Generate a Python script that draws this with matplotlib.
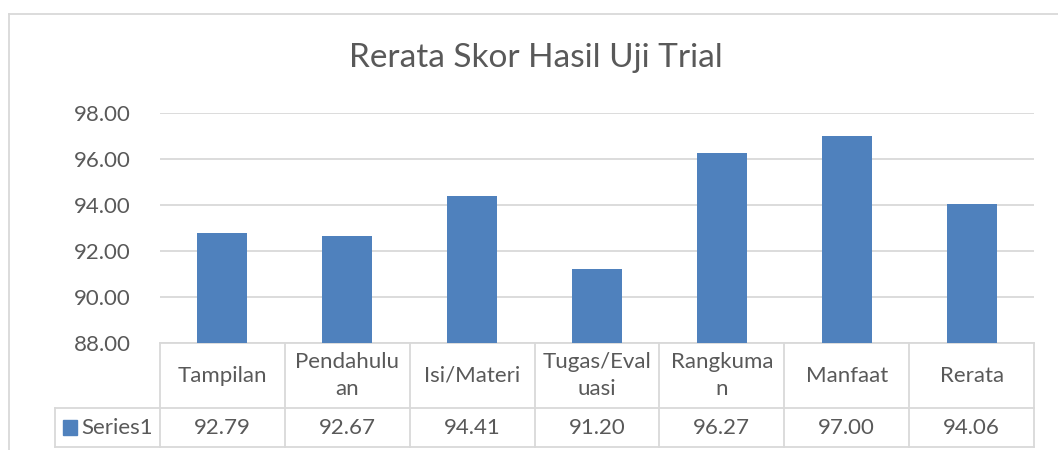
import matplotlib
matplotlib.use("Agg")
import matplotlib.pyplot as plt
from matplotlib.transforms import blended_transform_factory
from matplotlib.patches import Rectangle
from matplotlib.lines import Line2D

categories = ["Tampilan", "Pendahulu\nan", "Isi/Materi", "Tugas/Eval\nuasi",
              "Rangkuma\nn", "Manfaat", "Rerata"]
values = [92.79, 92.67, 94.41, 91.20, 96.27, 97.00, 94.06]
series_name = "Series1"
yticks = [88, 90, 92, 94, 96, 98]
title = "Rerata Skor Hasil Uji Trial"

W, H = 1058, 450
plt.rcParams['font.family'] = ['Lato', 'DejaVu Sans']
TXT = '#595959'
GRID = '#d9d9d9'
BAR = '#4f81bd'
FS = 16

fig = plt.figure(figsize=(W / 100, H / 100), dpi=100)
fig.patch.set_facecolor('white')

# chart border (cropped on right/bottom)
fig.add_artist(Line2D([8.5 / W, 8.5 / W], [0, 1 - 13.5 / H], transform=fig.transFigure,
                      color=GRID, lw=1.3))
fig.add_artist(Line2D([8.5 / W, 1], [1 - 13.5 / H, 1 - 13.5 / H], transform=fig.transFigure,
                      color=GRID, lw=1.3))

x0, x1 = 160, 1034
y_top, y_bot = 113, 343
ax = fig.add_axes([x0 / W, 1 - y_bot / H, (x1 - x0) / W, (y_bot - y_top) / H])
n = len(categories)
xs = list(range(n))
ax.bar(xs, [v - yticks[0] for v in values], bottom=yticks[0], width=0.4, color=BAR, zorder=3)
ax.set_xlim(-0.5, n - 0.5)
ax.set_ylim(yticks[0], yticks[-1])
ax.set_yticks(yticks)
ax.set_yticklabels([f"{t:.2f}" for t in yticks], color=TXT, fontsize=FS)
ax.tick_params(axis='y', length=0, pad=21)
ax.set_xticks([])
ax.grid(axis='y', color=GRID, lw=1.3, zorder=0)
for s in ['left', 'right', 'top', 'bottom']:
    ax.spines[s].set_visible(False)

fig.text(536 / W, 1 - 58 / H, title, ha='center', va='center', fontsize=24, color=TXT)

# data table
tr = blended_transform_factory(ax.transData, ax.transAxes)
ah = y_bot - y_top
r1 = -(408 - y_bot) / ah
r2 = -(447 - y_bot) / ah
lw = 1.3
def line(xa, xb, ya, yb):
    ax.add_line(Line2D([xa, xb], [ya, yb], transform=tr, color=GRID, lw=lw, clip_on=False))

ppx = (x1 - x0) / n
# horizontal lines
line(-0.5, n - 0.5, 0, 0)
xl = -0.5 - (x0 - 55) / ppx
line(xl, n - 0.5, r1, r1)
line(xl, n - 0.5, r2, r2)
# vertical lines
for i in range(n + 1):
    line(i - 0.5, i - 0.5, 0, r2)
line(xl, xl, r1, r2)

for i, (c, v) in enumerate(zip(categories, values)):
    ax.text(i, r1 / 2, c, transform=tr, ha='center', va='center', fontsize=FS,
            color=TXT, linespacing=1.45)
    ax.text(i, (r1 + r2) / 2, f"{v:.2f}", transform=tr, ha='center', va='center',
            fontsize=FS, color=TXT)

# legend key in table
kx = -0.5 - (x0 - 63) / ppx
kw = 14 / ppx
ax.add_patch(Rectangle((kx, (r1 + r2) / 2 - 7.5 / ah), kw, 15 / ah, transform=tr,
                       color=BAR, clip_on=False))
ax.text(-0.5 - (x0 - 81) / ppx, (r1 + r2) / 2, series_name, transform=tr, ha='left',
        va='center', fontsize=FS, color=TXT)

fig.savefig("out.png", dpi=100)
